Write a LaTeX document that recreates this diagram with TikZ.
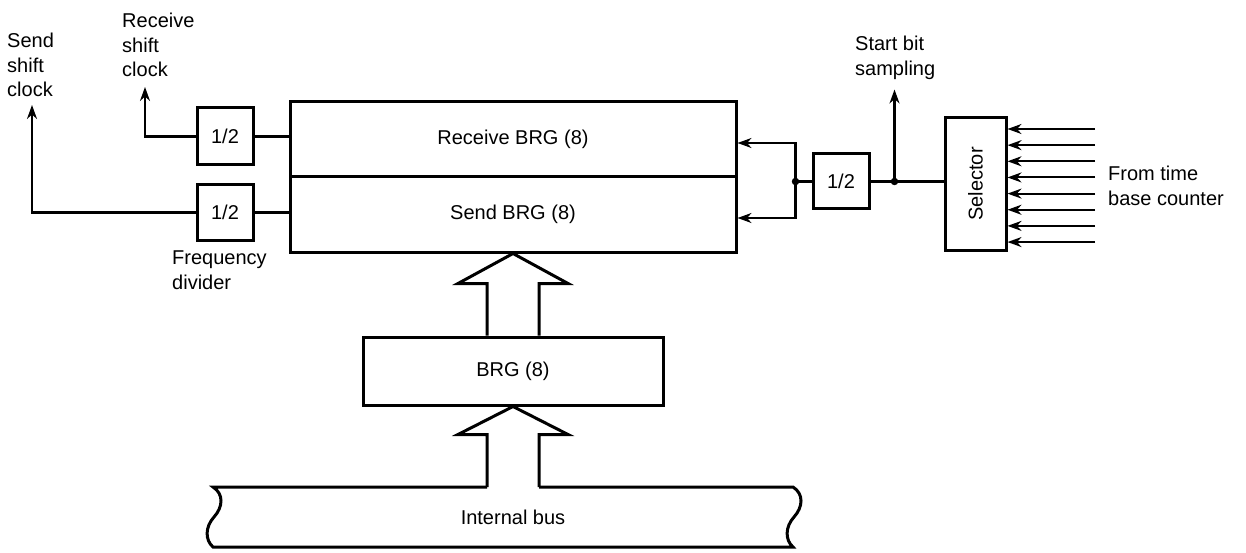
\documentclass[tikz,border=0pt]{standalone}
\usepackage{fontspec}
\setmainfont{Liberation Sans}
\usepackage{tikz}
\usetikzlibrary{arrows.meta,calc,positioning}

\tikzset{
  blk/.style={draw, line width=3pt, inner sep=0pt},
  wire/.style={line width=2.1pt},
  sig/.style={wire, -{Stealth[length=14pt,width=10pt]}},
  lbl/.style={align=left, inner sep=0pt, anchor=west},
  dot/.style={circle, fill, inner sep=0pt, minimum size=7.5pt}
}

\begin{document}
\begin{tikzpicture}
      [ x=1pt, y=-1pt,
        font=\fontsize{20}{24.5}\selectfont
      ]
      \useasboundingbox (0,0) rectangle (1246,553);

      % the two rate generators and the dividers
      \node[blk, minimum width=446, minimum height=75] (rbrg) at (513,139.5) {Receive BRG (8)};
      \node[blk, minimum width=446, minimum height=75] (sbrg) at (513,214.5) {Send BRG (8)};
      \node[blk, minimum width=56, minimum height=57]  (rdiv) at (225,136.5) {1/2};
      \node[blk, minimum width=56, minimum height=55]  (sdiv) at (225,212.5) {1/2};
      \node[blk, minimum width=56, minimum height=55]  (cdiv) at (841,181.5) {1/2};
      \node[blk, minimum width=61, minimum height=132] (sel)  at (975.5,184) {\rotatebox{90}{Selector}};
      \node[blk, minimum width=300, minimum height=68] (brg)  at (513,371)   {BRG (8)};

      % labels
      \node[lbl] (rlbl) at (122,45)  {Receive\\shift\\clock};
      \node[lbl] (slbl) at (7,65)    {Send\\shift\\clock};
      \node[lbl] (flbl) at (172,270) {Frequency\\divider};
      \node[lbl] (blbl) at (855,58)  {Start bit\\sampling};
      \node[lbl] (tlbl) at (1108,186) {From time\\base counter};
      \node[inner sep=0pt] (bus) at (513,517) {Internal bus};

      \coordinate (rclk) at (145,87);
      \coordinate (sclk) at (32,105);
      \coordinate (j1) at ($(cdiv.west)+(-16,0)$);
      \coordinate (j2) at ($(cdiv.east)+(24,0)$);
      \coordinate (samp) at ($(j2)+(0,-92)$);
      \coordinate (busin) at (513,487);

      % clock outputs
      \draw[wire] (rdiv) -- (rdiv.east -| rbrg.west);
      \draw[wire] (sdiv) -- (sdiv.east -| sbrg.west);
      \draw[sig]  (rdiv.west) -| (rclk);
      \draw[sig]  (sdiv.west) -| (sclk);

      % input side
      \draw[wire] (j1) -- (cdiv.west);
      \draw[sig]  (j1) |- ([yshift=-3.5pt]rbrg.east);
      \draw[sig]  (j1) |- ([yshift=-3.5pt]sbrg.east);
      \draw[wire] (cdiv.east) -- (cdiv.east -| sel.west);
      \draw[sig]  (j2) -- (samp);
      \node[dot] at (j1) {};
      \node[dot] at (j2) {};
      \foreach \i in {0,...,7} {
        \coordinate (in\i) at (1095,{129+16.15*\i});
        \draw[sig] (in\i) -- (in\i -| sel.east);
      }

      % wide arrows
      \draw[blk] ($(brg.north)+(-26,0)$) -- ($(sbrg.south)+(-26,30)$) -- ($(sbrg.south)+(-55,30)$)
                 -- (sbrg.south) -- ($(sbrg.south)+(55,30)$) -- ($(sbrg.south)+(26,30)$)
                 -- ($(brg.north)+(26,0)$);
      \draw[blk, line join=miter] ($(busin)+(-26,0)$) -- ($(brg.south)+(-26,28)$) -- ($(brg.south)+(-55,28)$)
                 -- (brg.south) -- ($(brg.south)+(55,28)$) -- ($(brg.south)+(26,28)$)
                 -- ($(busin)+(26,0)$);

      % bus
      \draw[blk] ($(busin)+(-26,0)$) -- (213,487)
                 .. controls (224,494) and (223,507) .. (214,517)
                 .. controls (205,527) and (205,540) .. (213,547)
                 -- (793,547)
                 .. controls (785,540) and (785,527) .. (794,517)
                 .. controls (803,507) and (804,494) .. (793,487)
                 -- ($(busin)+(26,0)$);
    \end{tikzpicture}
\end{document}
